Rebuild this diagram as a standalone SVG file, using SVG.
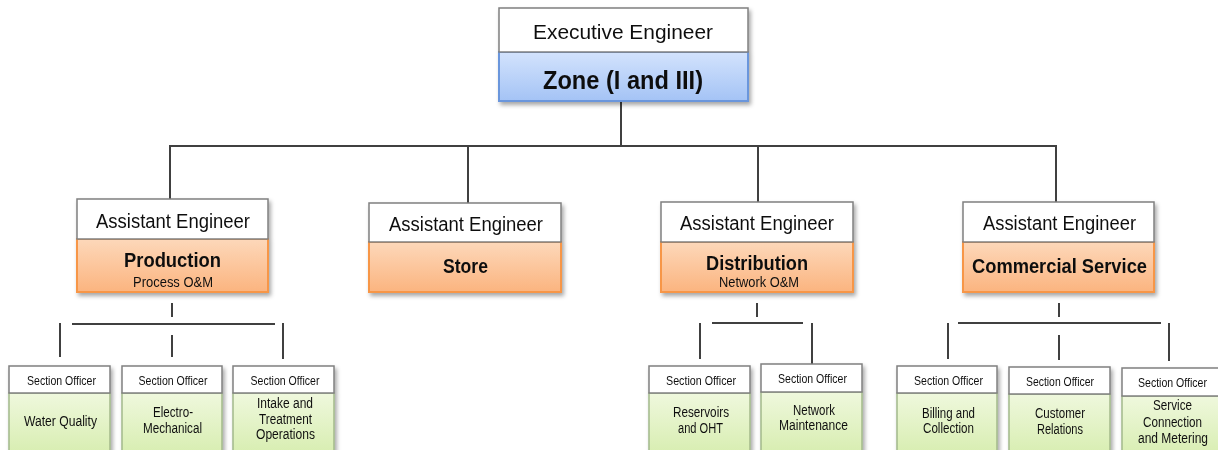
<svg xmlns="http://www.w3.org/2000/svg" width="1218" height="450" viewBox="0 0 1218 450">
  <defs>
    <linearGradient id="gBlue" x1="0" y1="0" x2="0" y2="1">
      <stop offset="0" stop-color="#d3e3fd"/>
      <stop offset="1" stop-color="#a4c3f5"/>
    </linearGradient>
    <linearGradient id="gOrange" x1="0" y1="0" x2="0" y2="1">
      <stop offset="0" stop-color="#fdd8ba"/>
      <stop offset="1" stop-color="#fbb47f"/>
    </linearGradient>
    <linearGradient id="gGreen" x1="0" y1="0" x2="0" y2="1">
      <stop offset="0" stop-color="#eff8dd"/>
      <stop offset="1" stop-color="#d4ecaa"/>
    </linearGradient>
    <filter id="shadow" x="-10%" y="-10%" width="125%" height="130%">
      <feDropShadow dx="2" dy="3" stdDeviation="2" flood-color="#000" flood-opacity="0.35"/>
    </filter>
    <filter id="soft" x="-5%" y="-200%" width="110%" height="500%">
      <feGaussianBlur stdDeviation="1.5"/>
    </filter>
  </defs>
  <style>
    text { font-family: "Liberation Sans Narrow", "Liberation Sans", Arial, sans-serif; fill: #111; text-anchor: middle; }
    .hdr { fill: #ffffff; stroke: #808080; stroke-width: 1.5; }
    .blue { fill: url(#gBlue); stroke: #6a96dc; stroke-width: 2; }
    .orange { fill: url(#gOrange); stroke: #f79646; stroke-width: 2; }
    .green { fill: url(#gGreen); stroke: #a3b98a; stroke-width: 1.5; }
    .t-exec { font-size: 21px; }
    .t-zone { font-size: 26px; font-weight: bold; }
    .t-ae { font-size: 20px; }
    .t-dept { font-size: 20px; font-weight: bold; }
    .t-sub { font-size: 14px; }
    .t-so { font-size: 12px; }
    .t-sec { font-size: 14px; }
    .conn line { stroke: #404040; stroke-width: 2; }
    .band { stroke: #c8c8c8; stroke-width: 3; filter: url(#soft); }
  </style>

  <!-- connectors -->
  <g id="connectors" class="conn">
    <line x1="621" y1="101" x2="621" y2="147"/>
    <line x1="169" y1="146" x2="1057" y2="146"/>
    <line x1="170" y1="146" x2="170" y2="199"/>
    <line x1="468" y1="146" x2="468" y2="203"/>
    <line x1="758" y1="146" x2="758" y2="202"/>
    <line x1="1056" y1="146" x2="1056" y2="202"/>

    <!-- production sections -->
    <line x1="172" y1="303" x2="172" y2="317"/>
    <line class="band" x1="74" y1="329" x2="275" y2="329"/>
    <line x1="72" y1="324" x2="275" y2="324"/>
    <line x1="60" y1="323" x2="60" y2="357"/>
    <line x1="172" y1="335" x2="172" y2="357"/>
    <line x1="283" y1="323" x2="283" y2="359"/>

    <!-- distribution sections -->
    <line x1="757" y1="303" x2="757" y2="317"/>
    <line class="band" x1="714" y1="328" x2="803" y2="328"/>
    <line x1="712" y1="323" x2="803" y2="323"/>
    <line x1="700" y1="323" x2="700" y2="359"/>
    <line x1="812" y1="323" x2="812" y2="364"/>

    <!-- commercial sections -->
    <line x1="1059" y1="303" x2="1059" y2="317"/>
    <line class="band" x1="960" y1="328" x2="1161" y2="328"/>
    <line x1="958" y1="323" x2="1161" y2="323"/>
    <line x1="948" y1="323" x2="948" y2="359"/>
    <line x1="1059" y1="335" x2="1059" y2="360"/>
    <line x1="1169" y1="323" x2="1169" y2="361"/>
  </g>

  <!-- executive engineer -->
  <g id="exec" filter="url(#shadow)">
    <rect class="blue" x="499" y="52" width="249" height="49"/>
    <rect class="hdr" x="499" y="8" width="249" height="44"/>
    <text class="t-exec" x="623" y="39" textLength="180" lengthAdjust="spacingAndGlyphs">Executive Engineer</text>
    <text class="t-zone" x="623" y="89" textLength="160" lengthAdjust="spacingAndGlyphs">Zone (I and III)</text>
  </g>

  <!-- assistant engineers -->
  <g id="ae-production" filter="url(#shadow)">
    <rect class="orange" x="77" y="239" width="191" height="53"/>
    <rect class="hdr" x="77" y="199" width="191" height="40"/>
    <text class="t-ae" x="173" y="228" textLength="154" lengthAdjust="spacingAndGlyphs">Assistant Engineer</text>
    <text class="t-dept" x="172.5" y="267" textLength="97" lengthAdjust="spacingAndGlyphs">Production</text>
    <text class="t-sub" x="173" y="287" textLength="80" lengthAdjust="spacingAndGlyphs">Process O&amp;M</text>
  </g>

  <g id="ae-store" filter="url(#shadow)">
    <rect class="orange" x="369" y="242" width="192" height="50"/>
    <rect class="hdr" x="369" y="203" width="192" height="39"/>
    <text class="t-ae" x="466" y="231" textLength="154" lengthAdjust="spacingAndGlyphs">Assistant Engineer</text>
    <text class="t-dept" x="465.5" y="273" textLength="45" lengthAdjust="spacingAndGlyphs">Store</text>
  </g>

  <g id="ae-distribution" filter="url(#shadow)">
    <rect class="orange" x="661" y="242" width="192" height="50"/>
    <rect class="hdr" x="661" y="202" width="192" height="40"/>
    <text class="t-ae" x="757" y="230" textLength="154" lengthAdjust="spacingAndGlyphs">Assistant Engineer</text>
    <text class="t-dept" x="757" y="270" textLength="102" lengthAdjust="spacingAndGlyphs">Distribution</text>
    <text class="t-sub" x="759" y="287" textLength="80" lengthAdjust="spacingAndGlyphs">Network O&amp;M</text>
  </g>

  <g id="ae-commercial" filter="url(#shadow)">
    <rect class="orange" x="963" y="242" width="191" height="50"/>
    <rect class="hdr" x="963" y="202" width="191" height="40"/>
    <text class="t-ae" x="1059.5" y="230" textLength="153" lengthAdjust="spacingAndGlyphs">Assistant Engineer</text>
    <text class="t-dept" x="1059.5" y="273" textLength="175" lengthAdjust="spacingAndGlyphs">Commercial Service</text>
  </g>

  <!-- section officers -->
  <g id="so-water-quality" filter="url(#shadow)">
    <rect class="green" x="9" y="393" width="101" height="70"/>
    <rect class="hdr" x="9" y="366" width="101" height="27"/>
    <text class="t-so" x="61.5" y="385" textLength="69" lengthAdjust="spacingAndGlyphs">Section Officer</text>
    <text class="t-sec" x="60.5" y="426" textLength="73" lengthAdjust="spacingAndGlyphs">Water Quality</text>
  </g>

  <g id="so-electro-mechanical" filter="url(#shadow)">
    <rect class="green" x="122" y="393" width="100" height="70"/>
    <rect class="hdr" x="122" y="366" width="100" height="27"/>
    <text class="t-so" x="173" y="385" textLength="69" lengthAdjust="spacingAndGlyphs">Section Officer</text>
    <text class="t-sec" x="173" y="417" textLength="40" lengthAdjust="spacingAndGlyphs">Electro-</text>
    <text class="t-sec" x="172.5" y="433" textLength="59" lengthAdjust="spacingAndGlyphs">Mechanical</text>
  </g>

  <g id="so-intake" filter="url(#shadow)">
    <rect class="green" x="233" y="393" width="101" height="70"/>
    <rect class="hdr" x="233" y="366" width="101" height="27"/>
    <text class="t-so" x="285" y="385" textLength="69" lengthAdjust="spacingAndGlyphs">Section Officer</text>
    <text class="t-sec" x="285" y="408" textLength="56" lengthAdjust="spacingAndGlyphs">Intake and</text>
    <text class="t-sec" x="285.5" y="424" textLength="53" lengthAdjust="spacingAndGlyphs">Treatment</text>
    <text class="t-sec" x="285.5" y="439" textLength="59" lengthAdjust="spacingAndGlyphs">Operations</text>
  </g>

  <g id="so-reservoirs" filter="url(#shadow)">
    <rect class="green" x="649" y="393" width="101" height="70"/>
    <rect class="hdr" x="649" y="366" width="101" height="27"/>
    <text class="t-so" x="701" y="385" textLength="70" lengthAdjust="spacingAndGlyphs">Section Officer</text>
    <text class="t-sec" x="701" y="417" textLength="56" lengthAdjust="spacingAndGlyphs">Reservoirs</text>
    <text class="t-sec" x="700.5" y="433" textLength="45" lengthAdjust="spacingAndGlyphs">and OHT</text>
  </g>

  <g id="so-network" filter="url(#shadow)">
    <rect class="green" x="761" y="392" width="101" height="70"/>
    <rect class="hdr" x="761" y="364" width="101" height="28"/>
    <text class="t-so" x="812.5" y="383" textLength="69" lengthAdjust="spacingAndGlyphs">Section Officer</text>
    <text class="t-sec" x="814" y="415" textLength="42" lengthAdjust="spacingAndGlyphs">Network</text>
    <text class="t-sec" x="813.5" y="430" textLength="69" lengthAdjust="spacingAndGlyphs">Maintenance</text>
  </g>

  <g id="so-billing" filter="url(#shadow)">
    <rect class="green" x="897" y="393" width="100" height="70"/>
    <rect class="hdr" x="897" y="366" width="100" height="27"/>
    <text class="t-so" x="948.5" y="385" textLength="69" lengthAdjust="spacingAndGlyphs">Section Officer</text>
    <text class="t-sec" x="948.5" y="418" textLength="53" lengthAdjust="spacingAndGlyphs">Billing and</text>
    <text class="t-sec" x="948.5" y="433" textLength="51" lengthAdjust="spacingAndGlyphs">Collection</text>
  </g>

  <g id="so-customer" filter="url(#shadow)">
    <rect class="green" x="1009" y="394" width="101" height="70"/>
    <rect class="hdr" x="1009" y="367" width="101" height="27"/>
    <text class="t-so" x="1060" y="386" textLength="68" lengthAdjust="spacingAndGlyphs">Section Officer</text>
    <text class="t-sec" x="1060" y="418" textLength="50" lengthAdjust="spacingAndGlyphs">Customer</text>
    <text class="t-sec" x="1060" y="434" textLength="46" lengthAdjust="spacingAndGlyphs">Relations</text>
  </g>

  <g id="so-service" filter="url(#shadow)">
    <rect class="green" x="1122" y="396" width="101" height="70"/>
    <rect class="hdr" x="1122" y="368" width="101" height="28"/>
    <text class="t-so" x="1172.5" y="387" textLength="69" lengthAdjust="spacingAndGlyphs">Section Officer</text>
    <text class="t-sec" x="1172.5" y="410" textLength="39" lengthAdjust="spacingAndGlyphs">Service</text>
    <text class="t-sec" x="1172.5" y="427" textLength="59" lengthAdjust="spacingAndGlyphs">Connection</text>
    <text class="t-sec" x="1173" y="443" textLength="70" lengthAdjust="spacingAndGlyphs">and Metering</text>
  </g>
</svg>
